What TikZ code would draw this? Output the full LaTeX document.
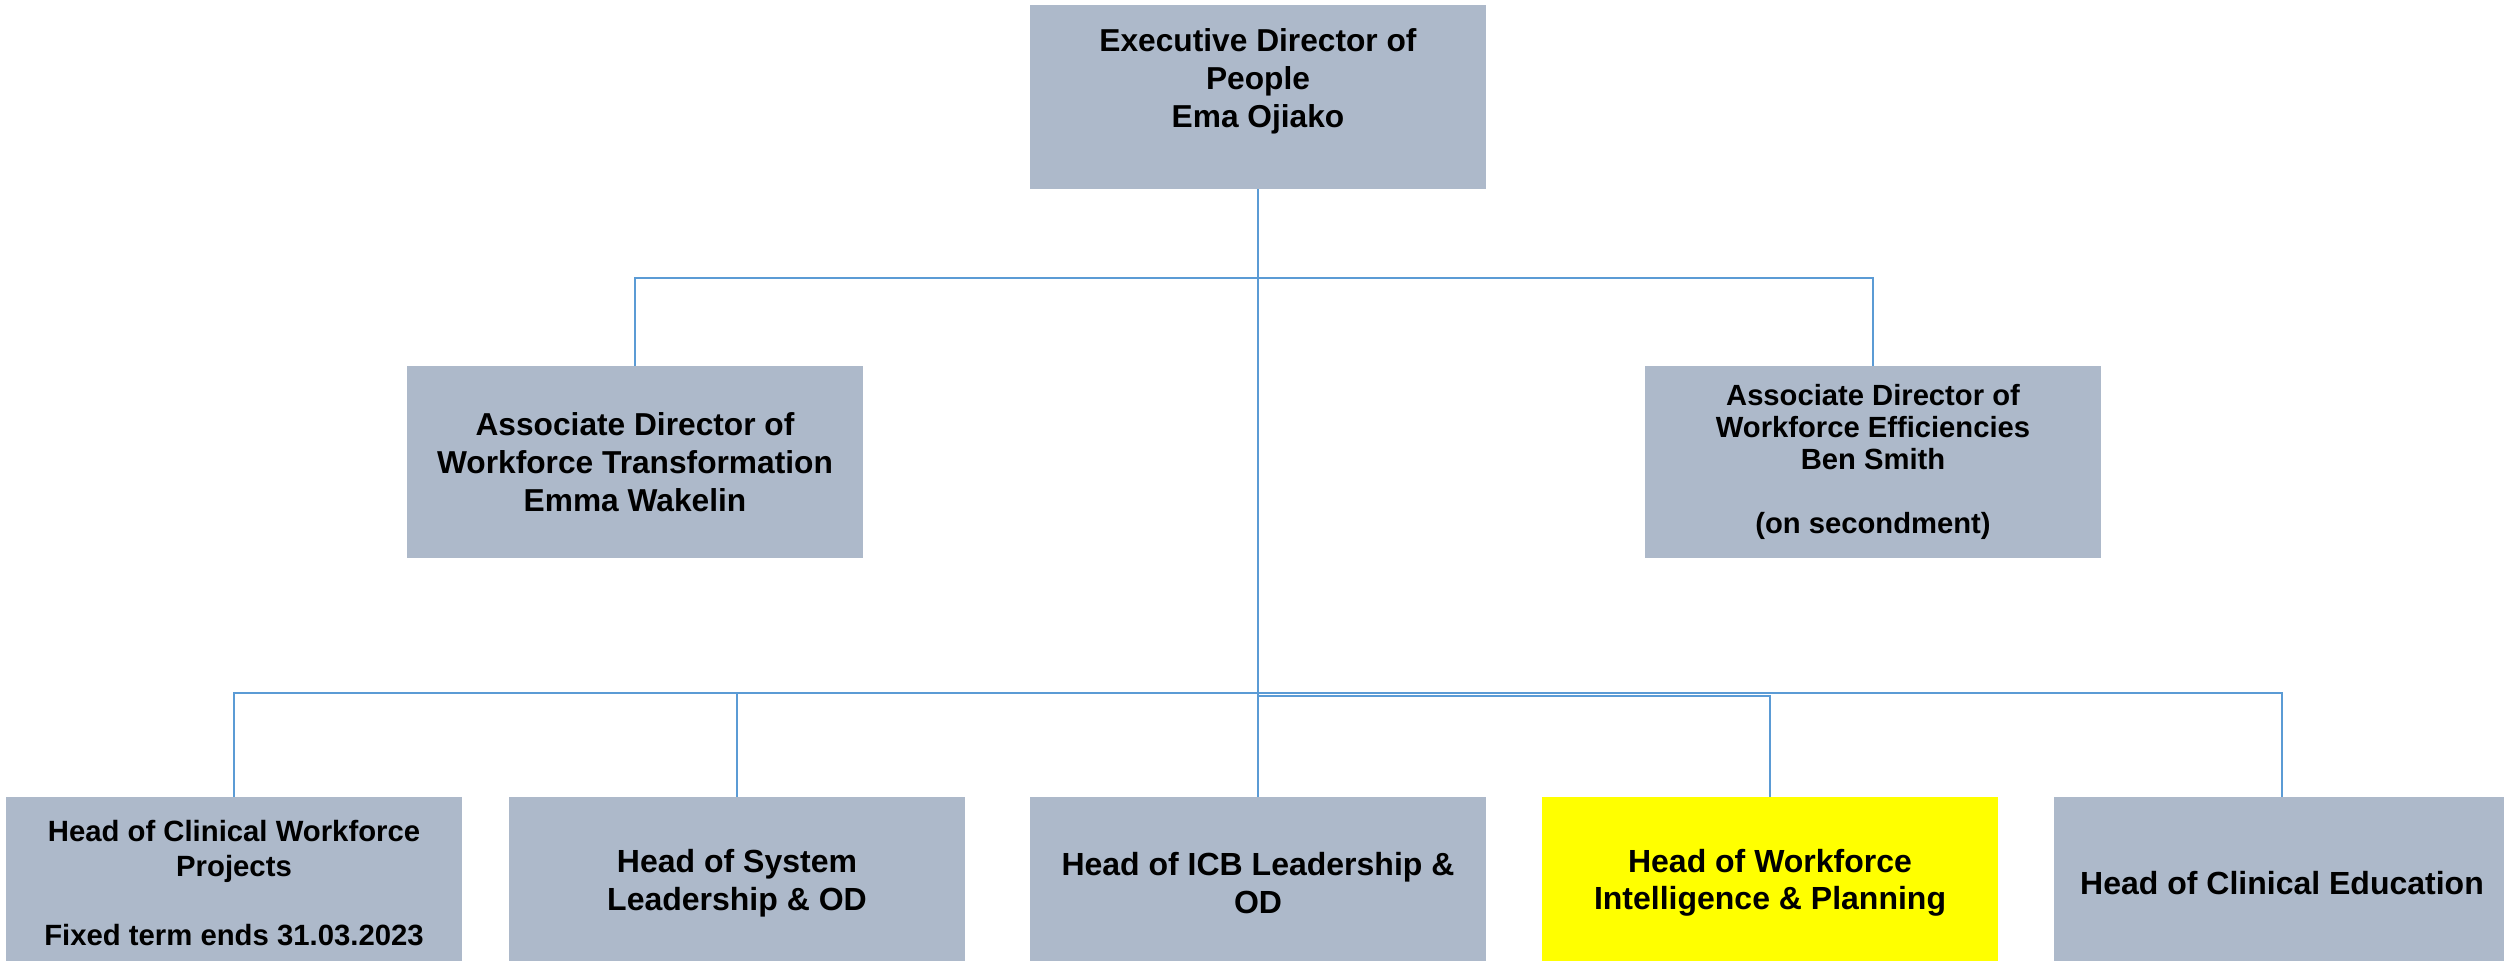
\documentclass[tikz,border=0pt]{standalone}
\usepackage{fontspec}
\setmainfont{Liberation Sans}
\definecolor{boxgray}{HTML}{ADB9CA}
\definecolor{lineblue}{HTML}{5B9BD5}
\definecolor{hiyellow}{HTML}{FFFF00}
\begin{document}
\begin{tikzpicture}[x=0.5pt,y=-0.5pt,
  orgbox/.style={rectangle, fill=boxgray, draw=none, inner sep=0pt, align=center, minimum width=228pt},
  fbig/.style={font=\bfseries\fontsize{15.85}{19}\selectfont},
  fmid/.style={font=\bfseries\fontsize{16}{18.75}\selectfont},
  fsmall/.style={font=\bfseries\fontsize{14.6}{15.9}\selectfont},
  fsmallb/.style={font=\bfseries\fontsize{14.65}{17.4}\selectfont},
  conn/.style={draw=lineblue, line width=1pt}]
\useasboundingbox (0,0) rectangle (2504,961);
\fill[white] (0,0) rectangle (2504,961);
% boxes
\node[orgbox, fbig, minimum height=92pt] (top) at (1258,97) {Executive Director of\\People\\Ema Ojiako\\~};
\node[orgbox, fbig, minimum height=96pt] (assocL) at (635,462) {Associate Director of\\Workforce Transformation\\Emma Wakelin};
\node[orgbox, fsmall, minimum height=96pt] (assocR) at (1873,462) {Associate Director of\\Workforce Efficiencies\\Ben Smith\\~\\(on secondment)};
\node[orgbox, fsmallb, minimum height=86pt] (b1) at (234,883) {Head of Clinical Workforce\\Projects\\~\\Fixed term ends 31.03.2023};
\node[orgbox, fmid, minimum height=86pt] (b2) at (737,883) {Head of System\\Leadership \& OD};
\node[orgbox, fmid, minimum height=86pt] (b3) at (1258,883) {Head of ICB Leadership \&\\OD};
\node[orgbox, fmid, minimum height=86pt, fill=hiyellow] (b4) at (1770,883) {Head of Workforce\\Intelligence \& Planning};
\node[orgbox, fmid, minimum height=86pt] (b5) at (2282,883) {Head of Clinical Education};
% junctions
\coordinate (h1) at (1258,278);
\coordinate (h2) at (1258,693);
\coordinate (h3) at (1258,696);
% connectors
\draw[conn] (top.south) -- (b3.north);
\draw[conn] (assocL.north) |- (h1) -| (assocR.north);
\draw[conn] (b1.north) |- (h2) -| (b5.north);
\draw[conn] (b2.north) |- (h2);
\draw[conn] (h3) -| (b4.north);
\end{tikzpicture}
\end{document}
